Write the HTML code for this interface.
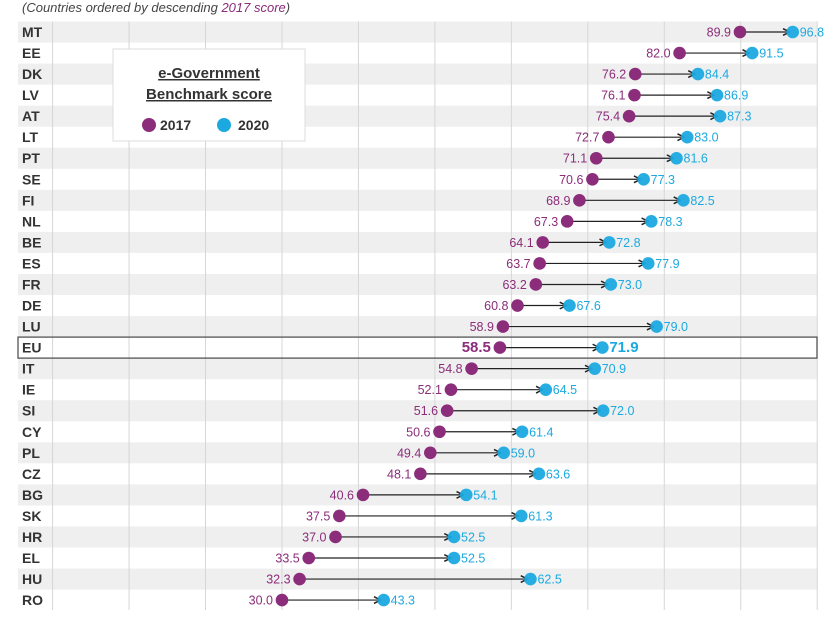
<!DOCTYPE html>
<html><head><meta charset="utf-8"><style>
body{margin:0;background:#fff;width:830px;height:620px;overflow:hidden}
svg text{font-family:"Liberation Sans",sans-serif}
</style></head><body>
<svg id="s" width="830" height="620" xmlns="http://www.w3.org/2000/svg">
<defs><marker id="ar" viewBox="0 0 10 10" refX="9" refY="5" markerWidth="7" markerHeight="7" orient="auto"><path d="M1,1 L9,5 L1,9" fill="none" stroke="#222" stroke-width="1.8"/></marker></defs>
<text x="22" y="12" font-size="13" font-style="italic" fill="#444">(Countries ordered by descending <tspan fill="#8b2d7a">2017 score</tspan>)</text>
</svg>
<script>
var d=[["MT",89.9,96.8],["EE",82.0,91.5],["DK",76.2,84.4],["LV",76.1,86.9],["AT",75.4,87.3],["LT",72.7,83.0],["PT",71.1,81.6],["SE",70.6,77.3],["FI",68.9,82.5],["NL",67.3,78.3],["BE",64.1,72.8],["ES",63.7,77.9],["FR",63.2,73.0],["DE",60.8,67.6],["LU",58.9,79.0],["EU",58.5,71.9],["IT",54.8,70.9],["IE",52.1,64.5],["SI",51.6,72.0],["CY",50.6,61.4],["PL",49.4,59.0],["CZ",48.1,63.6],["BG",40.6,54.1],["SK",37.5,61.3],["HR",37.0,52.5],["EL",33.5,52.5],["HU",32.3,62.5],["RO",30.0,43.3]];
var s=document.getElementById('s'),h='';
function X(v){return 52.6+v*7.646;}
var P=21.04,T=21.5;
for(var i=0;i<28;i++){var y=T+i*P;if(i%2==0)h+='<rect x="18" y="'+y+'" width="799" height="'+P+'" fill="#efefef"/>';}
for(var g=0;g<=10;g++){h+='<line x1="'+X(g*10)+'" y1="'+T+'" x2="'+X(g*10)+'" y2="610" stroke="#d6d6d6" stroke-width="1"/>';}
h+='<rect x="113" y="49" width="192" height="92" fill="#fff" stroke="#ddd"/>';
h+='<text x="209" y="78" text-anchor="middle" font-size="15" font-weight="bold" fill="#333" text-decoration="underline">e-Government</text>';
h+='<text x="209" y="99" text-anchor="middle" font-size="15" font-weight="bold" fill="#333" text-decoration="underline">Benchmark score</text>';
h+='<circle cx="149" cy="125" r="7" fill="#8b2d7a"/><text x="160" y="130" font-size="14" font-weight="bold" fill="#333">2017</text>';
h+='<circle cx="224" cy="125" r="7" fill="#1ba9e0"/><text x="238" y="130" font-size="14" font-weight="bold" fill="#333">2020</text>';
for(var i=0;i<28;i++){var r=d[i],cy=32+i*P,eu=r[0]=="EU";
if(eu)h+='<rect x="18" y="'+(cy-10.5)+'" width="799" height="21" fill="none" stroke="#555" stroke-width="1.3"/>';
h+='<text x="22" y="'+(cy+5)+'" font-size="14" font-weight="bold" fill="#333">'+r[0]+'</text>';
var a=X(r[1]),b=X(r[2]);
h+='<line x1="'+a+'" y1="'+cy+'" x2="'+(b-3)+'" y2="'+cy+'" stroke="#222" stroke-width="1.2" marker-end="url(#ar)"/>';
h+='<circle cx="'+a+'" cy="'+cy+'" r="6.3" fill="#8b2d7a"/><circle cx="'+b+'" cy="'+cy+'" r="6.3" fill="#1ba9e0" fill-opacity="0.95"/>';
var fs=eu?15:12.5,fw=eu?'bold':'normal';
h+='<text x="'+(a-9)+'" y="'+(cy+4.5)+'" text-anchor="end" font-size="'+fs+'" font-weight="'+fw+'" fill="#8b2d7a">'+r[1].toFixed(1)+'</text>';
h+='<text x="'+(b+7)+'" y="'+(cy+4.5)+'" font-size="'+fs+'" font-weight="'+fw+'" fill="#1ba9e0">'+r[2].toFixed(1)+'</text>';}
s.insertAdjacentHTML('beforeend',h);
</script>
</body></html>
